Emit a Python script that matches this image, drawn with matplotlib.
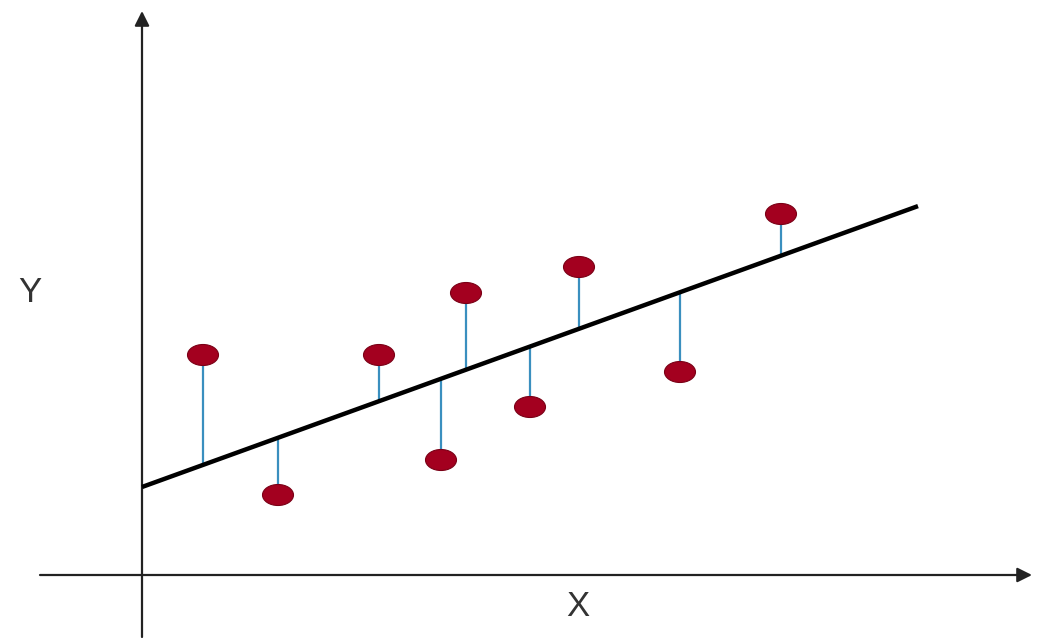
import matplotlib
matplotlib.use("Agg")
import matplotlib.pyplot as plt
from matplotlib.patches import Ellipse, FancyArrowPatch

# observed points
xs = [0.61, 1.36, 2.37, 2.99, 3.24, 3.88, 4.37, 5.38, 6.39]
ys = [2.20, 0.80, 2.20, 1.15, 2.82, 1.68, 3.08, 2.03, 3.61]

# fitted line
intercept = 0.88
slope = 0.362
line_x = [0.0, 7.76]

fig = plt.figure(figsize=(10.38, 6.38), dpi=100)
ax = fig.add_axes([0, 0, 1, 1])
ax.set_xlim(-1.42, 8.96)
ax.set_ylim(-0.63, 5.75)
ax.axis('off')

# axes arrows
ax.add_patch(FancyArrowPatch((-1.02, 0), (8.90, 0), arrowstyle='-|>', mutation_scale=22,
                             color='#222222', lw=1.6, shrinkA=0, shrinkB=0))
ax.add_patch(FancyArrowPatch((0, -0.62), (0, 5.64), arrowstyle='-|>', mutation_scale=22,
                             color='#222222', lw=1.6, shrinkA=0, shrinkB=0))

# residuals
for x, y in zip(xs, ys):
    yf = intercept + slope * x
    ax.plot([x, x], [y, yf], color='#3a8fbf', lw=1.6, zorder=2)

# regression line
ax.plot(line_x, [intercept + slope * v for v in line_x], color='black', lw=3.2,
        solid_capstyle='butt', zorder=3)

# points
for x, y in zip(xs, ys):
    ax.add_patch(Ellipse((x, y), 0.31, 0.21, facecolor='#a3001f', edgecolor='#7a0016',
                         lw=0.8, zorder=4))

ax.text(-1.12, 2.82, 'Y', fontsize=25, family='Liberation Sans', color='#333333',
        ha='center', va='center')
ax.text(4.36, -0.32, 'X', fontsize=25, family='Liberation Sans', color='#333333',
        ha='center', va='center')

fig.savefig('out.png', dpi=100)
